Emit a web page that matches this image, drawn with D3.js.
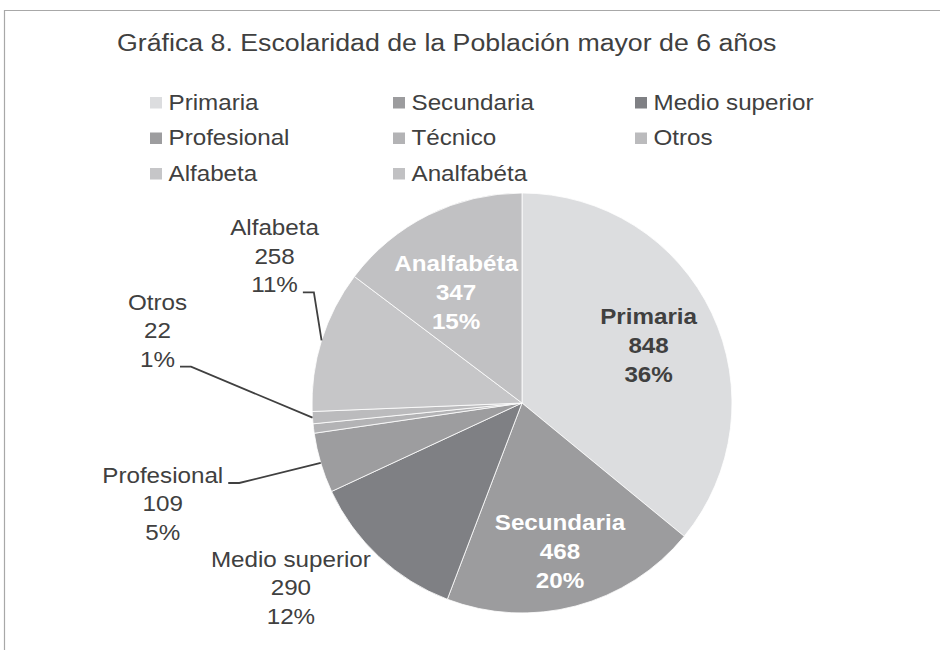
<!DOCTYPE html>
<html>
<head>
<meta charset="utf-8">
<script src="https://cdn.jsdelivr.net/npm/d3@7"></script>
<style>
  html, body { margin: 0; padding: 0; background: #ffffff; }
  svg { display: block; font-family: "Liberation Sans", Arial, sans-serif; }
</style>
</head>
<body>
<script>
// ---- data ----
const title = "Gráfica 8. Escolaridad de la Población mayor de 6 años";
const categories = ["Primaria", "Secundaria", "Medio superior", "Profesional", "Técnico", "Otros", "Alfabeta", "Analfabéta"];
const values = [848, 468, 290, 109, 17, 22, 258, 347];

// ---- styles ----
const colors = ["#dcdddf", "#9c9c9e", "#7f8084", "#9d9d9f", "#b3b3b5", "#bbbbbd", "#c6c6c8", "#c1c1c3"];
const textColor = "#404040";
// label placement per category (offsets relative to computed anchor)
const labelMode = {
  "Primaria": { mode: "inside", color: "#404040", dx: 0, dy: 2 },
  "Secundaria": { mode: "inside", color: "#ffffff", dx: 2, dy: 13 },
  "Analfabéta": { mode: "inside", color: "#ffffff", dx: -3.5, dy: 15 },
  "Medio superior": { mode: "outside", dx: -88, dy: 31, leader: false },
  "Profesional": { mode: "outside", dx: -158, dy: 41, leader: true, attach: 0 },
  "Otros": { mode: "outside", dx: -155, dy: -87, leader: true, attach: 2 },
  "Alfabeta": { mode: "outside", dx: -47, dy: -84, leader: true, attach: 2 },
  "Técnico": { mode: "none" }
};

const W = 940, H = 650;
const SX = 1.1; // horizontal text stretch of the original
const cx = 522, cy = 403, R = 210;

const svg = d3.select("body").append("svg").attr("width", W).attr("height", H);

// chart frame
svg.append("path")
  .attr("d", `M4.5,${H} V10.5 H${W}`)
  .attr("fill", "none").attr("stroke", "#a8a8a8").attr("stroke-width", 1.2);

function stretchedText(parent, x, y, str, opts) {
  const t = parent.append("text")
    .attr("transform", `translate(${x},${y}) scale(${SX},1)`)
    .attr("font-size", opts.size)
    .attr("font-weight", opts.weight || "normal")
    .attr("fill", opts.color || textColor)
    .attr("text-anchor", opts.anchor || "start")
    .text(str);
  return t;
}

// title
stretchedText(svg, 117, 51, title, { size: 24.3 });

// legend
const legendX = d3.scaleOrdinal().domain([0, 1, 2]).range([150, 393, 635]);
const legendY = d3.scaleOrdinal().domain([0, 1, 2]).range([109.5, 145, 180.5]);
categories.forEach((c, i) => {
  const col = i % 3, row = Math.floor(i / 3);
  const x = legendX(col), y = legendY(row);
  svg.append("rect").attr("x", x).attr("y", y - 12.5).attr("width", 12).attr("height", 11.5)
    .attr("fill", colors[i]);
  stretchedText(svg, x + 18.5, y, c, { size: 22 });
});

// pie
const total = d3.sum(values);
const pie = d3.pie().sort(null).value(d => d.value);
const arcs = pie(categories.map((c, i) => ({ name: c, value: values[i], color: colors[i] })));
const arc = d3.arc().innerRadius(0).outerRadius(R);
const g = svg.append("g").attr("transform", `translate(${cx},${cy})`);
g.selectAll("path").data(arcs).join("path")
  .attr("d", arc)
  .attr("fill", d => d.data.color)
  .attr("stroke", "#ffffff").attr("stroke-width", 0.8);

const pct = v => Math.round(v / total * 100) + "%";
const labelArc = d3.arc().innerRadius(140).outerRadius(140);

arcs.forEach(d => {
  const cfg = labelMode[d.data.name];
  if (!cfg || cfg.mode === "none") return;
  const lines = [d.data.name, String(d.data.value), pct(d.data.value)];
  if (cfg.mode === "inside") {
    const [ax, ay] = labelArc.centroid(d);
    const lx = ax + cfg.dx, ly = ay + cfg.dy;
    const step = 29;
    lines.forEach((s, k) => {
      stretchedText(g, lx, ly + (k - 1) * step + 7.5, s, { size: 22, weight: "bold", color: cfg.color, anchor: "middle" });
    });
  } else {
    const mid = (d.startAngle + d.endAngle) / 2;
    const ex = R * Math.sin(mid), ey = -R * Math.cos(mid);
    const lx = ex + cfg.dx, ly = ey + cfg.dy;
    const step = 28.5;
    const nodes = lines.map((s, k) =>
      stretchedText(g, lx, ly + (k - 1) * step + 7.5, s, { size: 22, color: textColor, anchor: "middle" }));
    if (cfg.leader) {
      const k = cfg.attach;
      const w = nodes[k].node().getComputedTextLength() * SX;
      const right = lx + w / 2;
      const yA = ly + (k - 1) * step + 7.5;
      g.append("path")
        .attr("d", `M${right + 5},${yA} H${right + 16} L${ex},${ey}`)
        .attr("fill", "none").attr("stroke", textColor).attr("stroke-width", 1.8);
    }
  }
});
</script>
</body>
</html>
